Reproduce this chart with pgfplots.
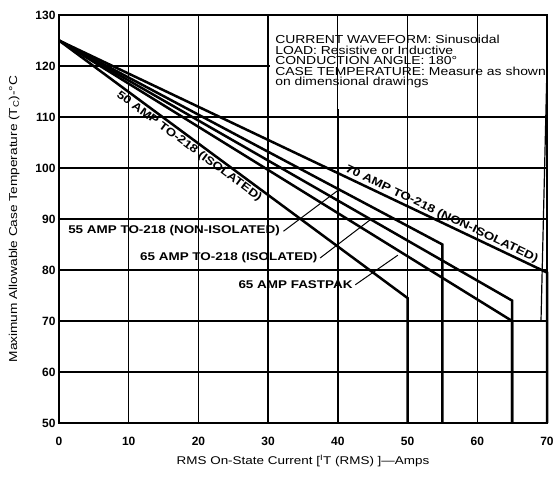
\documentclass[border=0pt]{standalone}
\usepackage{fontspec}
\setmainfont{Liberation Sans}[FakeStretch=1.2]
\newfontfamily\tickfont{Liberation Sans}
\usepackage{pgfplots}
\pgfplotsset{compat=1.18}
\begin{document}
\begin{tikzpicture}
\begin{axis}[
  scale only axis, width=488pt, height=408pt,
  xmin=0, xmax=70, ymin=50, ymax=130,
  xtick={0,10,...,70}, ytick={50,60,...,130},
  grid=major, major grid style={black, line width=1.3pt},
  axis line style={black, line width=1.8pt},
  tick style={draw=none},
  /pgf/number format/assume math mode=true,
  ticklabel style={font=\tickfont\fontsize{12}{14}\selectfont\bfseries},
  xticklabel style={yshift=-11pt},
  xlabel={RMS On-State Current [\textsuperscript{I}T (RMS) ]—Amps},
  ylabel={Maximum Allowable Case Temperature (T\textsubscript{C})-°C},
  xlabel style={at={(axis description cs:0.5,-0.093)}, anchor=center, font=\fontsize{11.2}{13}\selectfont},
  ylabel style={at={(axis description cs:-0.092,0.5)}, anchor=center, font=\fontsize{11.4}{13}\selectfont},
  clip=false,
]
% info box
\fill[white] (axis cs:30.25,111.6) rectangle (axis cs:69.85,129.8);
\draw[line width=1.2pt] (axis cs:40,130) -- ++(0,-9pt);
\draw[line width=1.2pt] (axis cs:50,130) -- ++(0,-9pt);
\draw[line width=1.2pt] (axis cs:60,130) -- ++(0,-9pt);
\draw[line width=1.2pt] (axis cs:70,120) -- ++(-6pt,0);
\node[anchor=north west, inner sep=0pt, font=\fontsize{11.6}{13}\selectfont] at (axis cs:31.0,126.1) {CURRENT WAVEFORM: Sinusoidal};
\node[anchor=north west, inner sep=0pt, font=\fontsize{11.6}{13}\selectfont] at (axis cs:31.0,124.02) {LOAD: Resistive or Inductive};
\node[anchor=north west, inner sep=0pt, font=\fontsize{11.6}{13}\selectfont] at (axis cs:31.0,121.94) {CONDUCTION ANGLE: 180°};
\node[anchor=north west, inner sep=0pt, font=\fontsize{11.6}{13}\selectfont] at (axis cs:31.0,119.86) {CASE TEMPERATURE: Measure as shown};
\node[anchor=north west, inner sep=0pt, font=\fontsize{11.6}{13}\selectfont] at (axis cs:31.0,117.78) {on dimensional drawings};
% curves
\addplot[black, line width=2.5pt, line join=miter] coordinates {(0,125) (50,74.5) (50,50)};
\addplot[black, line width=2.5pt, line join=miter] coordinates {(0,125) (55,85) (55,50)};
\addplot[black, line width=2.5pt, line join=miter] coordinates {(0,125) (65,70) (65,50)};
\addplot[black, line width=2.5pt, line join=miter] coordinates {(0,125) (65,74) (65,50)};
\addplot[black, line width=2.5pt, line join=miter] coordinates {(0,125) (70,79.5) (70,50)};
% labels
\node[rotate=-36.5, inner sep=0pt, font=\fontsize{11.2}{13}\selectfont\bfseries] at (axis cs:18.67,104.2) {50 AMP TO-218 (ISOLATED)};
\node[rotate=-25.4, inner sep=0pt, font=\fontsize{11.2}{13}\selectfont\bfseries] at (axis cs:54.9,90.9) {70 AMP TO-218 (NON-ISOLATED)};
\node[anchor=base west, inner sep=0pt, font=\fontsize{11.2}{13}\selectfont\bfseries] at (axis cs:1.3,87.25) {55 AMP TO-218 (NON-ISOLATED)};
\node[anchor=base west, inner sep=0pt, font=\fontsize{11.2}{13}\selectfont\bfseries] at (axis cs:11.62,81.96) {65 AMP TO-218 (ISOLATED)};
\node[anchor=base west, inner sep=0pt, font=\fontsize{11.2}{13}\selectfont\bfseries] at (axis cs:25.72,76.47) {65 AMP FASTPAK};
% leaders
\draw[line width=1pt] (axis cs:32.2,87.6) -- (axis cs:40.0,95.6);
\draw[line width=1pt] (axis cs:37.45,82.35) -- (axis cs:44.6,89.8);
\draw[line width=1pt] (axis cs:42.5,77.1) -- (axis cs:48.6,82.9);
\end{axis}
\pgfresetboundingbox
\path ([shift={(-59pt,-53pt)}]current axis.south west) rectangle ([shift={(8pt,15pt)}]current axis.north east);
\end{tikzpicture}
\end{document}
